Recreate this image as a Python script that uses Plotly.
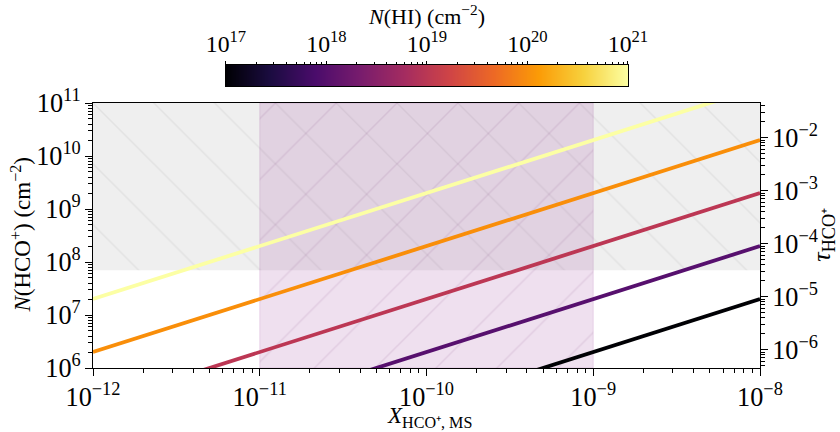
import math
import plotly.graph_objects as go

# ---------------- data ----------------
x_ms = [1e-12, 1e-8]                       # X_HCO+,MS at the two ends of each line
n_hi = [1e17, 1e18, 1e19, 1e20, 1e21]      # N(HI) for each line / colourbar decades
n_hco_hi17 = [2e3, 2e7]
n_hco_hi18 = [2e4, 2e8]
n_hco_hi19 = [2e5, 2e9]
n_hco_hi20 = [2e6, 2e10]
n_hco_hi21 = [2e7, 2e11]
n_hco_lines = [n_hco_hi17, n_hco_hi18, n_hco_hi19, n_hco_hi20, n_hco_hi21]

# shaded regions
high_tau_x = [1e-12, 1e-8]
high_tau_y = [7e7, 1e11]
ms_x = [1e-11, 1e-9]
ms_y = [1e6, 1e11]

tau_per_n = 4.5e-13   # tau_HCO+ per unit N(HCO+) (right axis conversion)

# ---------------- styles ----------------
line_colors = ["#000004", "#57106e", "#bc3754", "#f98e09", "#fcffa4"]
FONT = "Liberation Serif, Times New Roman, serif"

fig = go.Figure()

# grey high-opacity region (hatched '\\')
fig.add_trace(go.Scatter(
    x=[high_tau_x[0], high_tau_x[1], high_tau_x[1], high_tau_x[0], high_tau_x[0]],
    y=[high_tau_y[0], high_tau_y[0], high_tau_y[1], high_tau_y[1], high_tau_y[0]],
    mode="lines", line=dict(width=0), fill="toself",
    fillcolor="rgba(128,128,128,0.12)",
    fillpattern=dict(shape="\\", size=43, solidity=0.035,
                     fgcolor="rgba(110,110,110,0.2)", bgcolor="rgba(128,128,128,0.12)"),
    hoverinfo="skip", showlegend=False))

# purple MS region (hatched '/')
fig.add_trace(go.Scatter(
    x=[ms_x[0], ms_x[1], ms_x[1], ms_x[0], ms_x[0]],
    y=[ms_y[0], ms_y[0], ms_y[1], ms_y[1], ms_y[0]],
    mode="lines", line=dict(width=0.6, color="rgba(128,0,128,0.2)"), fill="toself",
    fillcolor="rgba(128,0,128,0.12)",
    fillpattern=dict(shape="/", size=43, solidity=0.035,
                     fgcolor="rgba(110,40,110,0.22)", bgcolor="rgba(128,0,128,0.12)"),
    hoverinfo="skip", showlegend=False))

# lines
for nh, ys, c in zip(n_hi, n_hco_lines, line_colors):
    fig.add_trace(go.Scatter(x=x_ms, y=ys, mode="lines",
                             line=dict(color=c, width=3.8),
                             name=f"N(HI)={nh:.0e}", showlegend=False))

# invisible trace for right tau axis
fig.add_trace(go.Scatter(x=x_ms, y=[v * tau_per_n for v in n_hco_hi20], yaxis="y3",
                         mode="lines", line=dict(width=0), opacity=0,
                         hoverinfo="skip", showlegend=False))

# colourbar as heatmap on its own axes
fig.add_trace(go.Heatmap(x=n_hi, y=[0], z=[[math.log10(v) for v in n_hi]],
                         xaxis="x2", yaxis="y2", colorscale="Inferno",
                         zmin=17, zmax=21, zsmooth="best", showscale=False,
                         hoverinfo="skip"))

axis_common = dict(type="log", showgrid=False, zeroline=False, showline=True,
                   linecolor="black", linewidth=1, ticks="outside", ticklen=7,
                   tickwidth=1, tickcolor="black", exponentformat="power",
                   dtick=1, automargin=False,
                   tickfont=dict(family=FONT, size=21, color="black"),
                   minor=dict(ticks="outside", ticklen=4, tickwidth=0.8,
                              tickcolor="black", dtick="D1", showgrid=False))

fig.update_layout(
    width=840, height=432,
    margin=dict(l=93, r=80, t=55, b=64),
    plot_bgcolor="white", paper_bgcolor="white",
    font=dict(family=FONT, size=21, color="black"),
    xaxis=dict(**axis_common, range=[-12, -8], mirror=True),
    yaxis=dict(**axis_common, range=[6, 11], domain=[0, 0.8466], mirror=True),
    yaxis3=dict(**axis_common, overlaying="y", side="right", anchor="x",
                range=[math.log10(1e6 * tau_per_n), math.log10(1e11 * tau_per_n)]),
    xaxis2=dict(type="log", range=[17, 21], domain=[0.1994, 0.802], anchor="y2",
                side="top", showgrid=False, zeroline=False, showline=True,
                mirror=True, linecolor="black", linewidth=1, automargin=False,
                ticks="outside", ticklen=3, tickwidth=1, tickcolor="black",
                exponentformat="power", dtick=1,
                tickfont=dict(family=FONT, size=19, color="black"),
                minor=dict(ticks="outside", ticklen=2, tickwidth=0.8,
                           tickcolor="black", dtick="D1", showgrid=False)),
    yaxis2=dict(domain=[0.901, 0.968], anchor="x2", range=[-0.5, 0.5],
                showticklabels=False, ticks="", showgrid=False, zeroline=False,
                showline=True, mirror=True, linecolor="black", linewidth=1,
                automargin=False),
    annotations=[
        dict(text="<i>N</i>(HI) (cm<sup>−2</sup>)", xref="paper", yref="paper",
             x=0.5, y=1.128, xanchor="center", yanchor="middle",
             showarrow=False, font=dict(family=FONT, size=22, color="black")),
        dict(text="<i>X</i><sub>HCO⁺, MS</sub>", xref="paper", yref="paper",
             x=0.505, y=-0.158, xanchor="center", yanchor="middle",
             showarrow=False, font=dict(family=FONT, size=23, color="black")),
        dict(text="<i>N</i>(HCO<sup>+</sup>) (cm<sup>−2</sup>)", xref="paper", yref="paper",
             x=-0.107, y=0.425, xanchor="center", yanchor="middle", textangle=-90,
             showarrow=False, font=dict(family=FONT, size=23, color="black")),
        dict(text="<i>τ</i><sub>HCO⁺</sub>", xref="paper", yref="paper",
             x=1.094, y=0.425, xanchor="center", yanchor="middle", textangle=-90,
             showarrow=False, font=dict(family=FONT, size=26, color="black")),
    ],
)

fig.write_html("out.html", config={"displayModeBar": False},
               post_script="document.body.style.margin='0px';")
